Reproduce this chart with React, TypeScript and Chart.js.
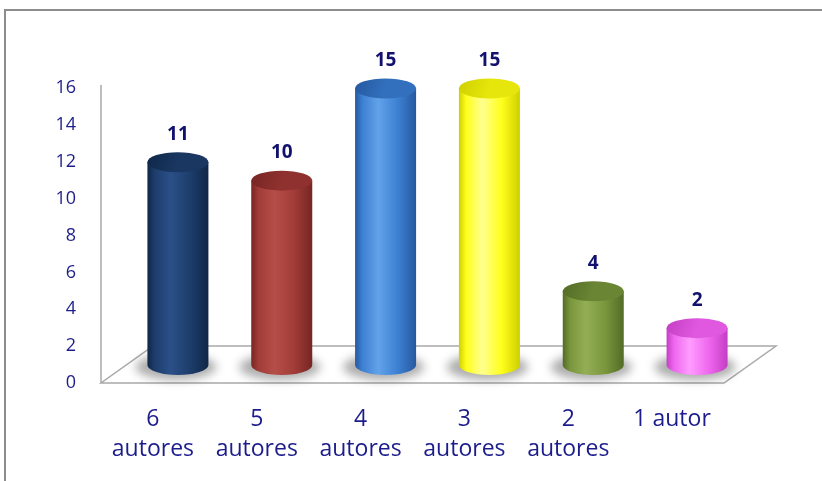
import React, { useEffect, useRef } from "react";
import { Chart, registerables } from "chart.js";

Chart.register(...registerables);

const categories: string[][] = [
  ["6", "autores"],
  ["5", "autores"],
  ["4", "autores"],
  ["3", "autores"],
  ["2", "autores"],
  ["1 autor"],
];
const values: number[] = [11, 10, 15, 15, 4, 2];
const yMin = 0;
const yMax = 16;
const yStep = 2;

// [edge, highlight, body, top]
const barColors: string[][] = [
  ["#0f2748", "#2b5088", "#1d3d6b", "#1a3761"],
  ["#762624", "#b54e48", "#a23c38", "#8f312e"],
  ["#2658a0", "#62a2ea", "#3d80d2", "#3270bd"],
  ["#cfcf00", "#ffff90", "#ffff1c", "#e6e60c"],
  ["#536b27", "#93ae55", "#7a963c", "#6a8533"],
  ["#c43ec4", "#ff9cff", "#ee66ee", "#df58df"],
];

const TEXT = "#1c1c8c";
const VALUE_TEXT = "#12126e";
const GRAYLINE = "#a9a9a9";

const cylinderPlugin = {
  id: "cyl3d",
  beforeDraw(chart: any) {
    const ctx = chart.ctx;
    ctx.save();
    ctx.fillStyle = "#ffffff";
    ctx.fillRect(0, 0, chart.width, chart.height);
    ctx.strokeStyle = "#8c8c8c";
    ctx.lineWidth = 2;
    ctx.strokeRect(5, 10, chart.width + 20, chart.height + 20);
    ctx.restore();
  },
  beforeDatasetsDraw(chart: any) {
    const ctx = chart.ctx;
    const { left, right, bottom } = chart.chartArea;
    const y = chart.scales.y;
    const dx = 52;
    const dy = 37;
    ctx.save();
    ctx.strokeStyle = GRAYLINE;
    ctx.lineWidth = 1.5;
    // floor
    ctx.beginPath();
    ctx.moveTo(left, bottom);
    ctx.lineTo(right, bottom);
    ctx.lineTo(right + dx, bottom - dy);
    ctx.lineTo(left + dx, bottom - dy);
    ctx.closePath();
    ctx.fillStyle = "#ffffff";
    ctx.fill();
    ctx.stroke();
    // vertical axis line
    ctx.beginPath();
    ctx.moveTo(left, y.getPixelForValue(yMax) - 3);
    ctx.lineTo(left, bottom);
    ctx.stroke();
    ctx.restore();
  },
  afterDatasetsDraw(chart: any) {
    const ctx = chart.ctx;
    const meta = chart.getDatasetMeta(0);
    const depthX = 25;
    const depthY = 18;
    const rx = 30.5;
    const ry = 10;
    // shadows
    meta.data.forEach((el: any) => {
      const cx = el.x + depthX;
      const yb = el.base - depthY;
      ctx.save();
      ctx.filter = "blur(5px)";
      ctx.fillStyle = "rgba(0,0,0,0.32)";
      ctx.beginPath();
      ctx.ellipse(cx - 2, yb + 2, rx + 10, ry + 3, 0, 0, Math.PI * 2);
      ctx.fill();
      ctx.restore();
    });
    meta.data.forEach((el: any, i: number) => {
      const cx = el.x + depthX;
      const yt = el.y - depthY;
      const yb = el.base - depthY;
      const [edge, hi, body, top] = barColors[i];
      ctx.save();
      const g = ctx.createLinearGradient(cx - rx, 0, cx + rx, 0);
      g.addColorStop(0, edge);
      g.addColorStop(0.12, body);
      g.addColorStop(0.38, hi);
      g.addColorStop(0.7, body);
      g.addColorStop(1, edge);
      ctx.fillStyle = g;
      ctx.beginPath();
      ctx.moveTo(cx - rx, yt);
      ctx.lineTo(cx - rx, yb);
      ctx.ellipse(cx, yb, rx, ry, 0, Math.PI, 0, true);
      ctx.lineTo(cx + rx, yt);
      ctx.closePath();
      ctx.fill();
      // top
      const gt = ctx.createLinearGradient(cx - rx, yt - ry, cx + rx, yt + ry);
      gt.addColorStop(0, edge);
      gt.addColorStop(0.5, top);
      gt.addColorStop(1, top);
      ctx.fillStyle = gt;
      ctx.beginPath();
      ctx.ellipse(cx, yt, rx, ry, 0, 0, Math.PI * 2);
      ctx.fill();
      ctx.restore();
      // value label
      ctx.save();
      ctx.fillStyle = VALUE_TEXT;
      ctx.font = "bold 19px 'Open Sans'";
      ctx.textAlign = "center";
      ctx.textBaseline = "middle";
      ctx.fillText(String(values[i]), cx, yt - 28);
      ctx.restore();
    });
  },
};

export default function App() {
  const ref = useRef<HTMLCanvasElement | null>(null);
  useEffect(() => {
    if (!ref.current) return;
    const chart = new Chart(ref.current, {
      type: "bar",
      data: {
        labels: categories,
        datasets: [
          {
            data: values,
            backgroundColor: "rgba(0,0,0,0)",
            borderWidth: 0,
          },
        ],
      },
      options: {
        responsive: false,
        animation: false,
        layout: { padding: { top: 88, right: 98, left: 0, bottom: 0 } },
        plugins: {
          legend: { display: false },
          tooltip: { enabled: false },
        },
        scales: {
          x: {
            grid: { display: false, drawTicks: false },
            border: { display: false },
            ticks: {
              color: TEXT,
              font: { family: "'Open Sans'", size: 23, lineHeight: 1.3 },
              padding: 22,
              maxRotation: 0,
              autoSkip: false,
            },
            afterFit(scale: any) {
              scale.height = 98;
            },
          },
          y: {
            min: yMin,
            max: yMax,
            grid: { display: false, drawTicks: false },
            border: { display: false },
            ticks: {
              stepSize: yStep,
              color: TEXT,
              font: { family: "'Open Sans'", size: 18 },
              padding: 25,
            },
            afterFit(scale: any) {
              scale.width = 101;
            },
          },
        },
      },
      plugins: [cylinderPlugin],
    });
    return () => chart.destroy();
  }, []);
  return (
    <div style={{ position: "fixed", left: 0, top: 0, width: 822, height: 481, background: "#fff" }}>
      <canvas ref={ref} width={822} height={481} style={{ display: "block" }} />
    </div>
  );
}
